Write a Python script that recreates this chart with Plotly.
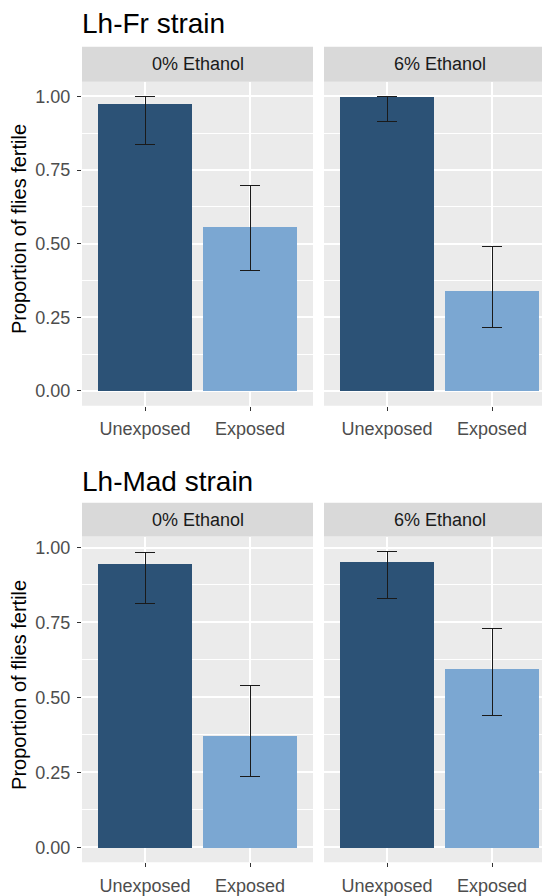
import plotly.graph_objects as go

# ---------------- data ----------------
strains = ["Lh-Fr strain", "Lh-Mad strain"]
ethanol_levels = ["0% Ethanol", "6% Ethanol"]
categories = ["Unexposed", "Exposed"]

fr_0_mean = [0.976, 0.557]
fr_0_low = [0.837, 0.408]
fr_0_high = [0.998, 0.698]

fr_6_mean = [1.000, 0.340]
fr_6_low = [0.915, 0.215]
fr_6_high = [1.000, 0.492]

mad_0_mean = [0.946, 0.374]
mad_0_low = [0.812, 0.236]
mad_0_high = [0.983, 0.540]

mad_6_mean = [0.952, 0.596]
mad_6_low = [0.829, 0.440]
mad_6_high = [0.987, 0.729]

y_ticks = [0.0, 0.25, 0.50, 0.75, 1.00]
y_tick_labels = ["0.00", "0.25", "0.50", "0.75", "1.00"]
y_title = "Proportion of flies fertile"

# ---------------- style ----------------
VIEW_W, VIEW_H = 550, 896
OFF = 8  # default page body margin
W, H = VIEW_W - OFF, VIEW_H - OFF
FONT = "Liberation Sans, Arial, sans-serif"
bar_colors = ["#2C5276", "#7BA7D2"]
panel_bg = "#EBEBEB"
strip_bg = "#D9D9D9"

def px_x(p):
    return (p - OFF) / W

def px_y(p):
    return 1 - (p - OFF) / H

panels = [
    (0, 0, fr_0_mean, fr_0_low, fr_0_high),
    (0, 1, fr_6_mean, fr_6_low, fr_6_high),
    (1, 0, mad_0_mean, mad_0_low, mad_0_high),
    (1, 1, mad_6_mean, mad_6_low, mad_6_high),
]

# pixel geometry (in page pixels)
col_left = [82, 324]
col_full_right = [313, 555]
unit_px = 105.0
row_strip_top = [47, 505]
row_panel_top = [82, 539]
row_panel_bot = [407.5, 866]
title_y = [24, 483.5]
ytitle_y = [230, 688]

fig = go.Figure()
layout_axes = {}
shapes = []
annotations = []

row_max = {}
for r in range(2):
    highs = []
    for (rr, c, m, lo, hi) in panels:
        if rr == r:
            highs += hi
    row_max[r] = max(highs)

for i, (r, c, mean, low, high) in enumerate(panels):
    idx = i + 1
    xa = "x" if idx == 1 else f"x{idx}"
    ya = "y" if idx == 1 else f"y{idx}"
    xkey = "xaxis" if idx == 1 else f"xaxis{idx}"
    ykey = "yaxis" if idx == 1 else f"yaxis{idx}"

    fig.add_trace(go.Bar(
        x=[1, 2], y=mean,
        width=0.9,
        marker=dict(color=bar_colors, line=dict(width=0)),
        error_y=dict(type="data", symmetric=False,
                     array=[h - m for h, m in zip(high, mean)],
                     arrayminus=[m - l for m, l in zip(mean, low)],
                     color="#1a1a1a", thickness=1, width=10),
        xaxis=xa, yaxis=ya, showlegend=False,
        hoverinfo="skip",
    ))

    left = col_left[c]
    right = min(col_full_right[c], VIEW_W)
    x_range = [0.4, 0.4 + (right - left) / unit_px]
    ymax = row_max[r]
    y_range = [-0.05 * ymax, 1.05 * ymax]

    layout_axes[xkey] = dict(
        domain=[px_x(left), px_x(right)], range=x_range,
        anchor=ya, tickvals=[1, 2], ticktext=categories,
        showgrid=True, gridcolor="white", gridwidth=2,
        zeroline=False, showline=False,
        ticks="outside", ticklen=4, tickwidth=1, tickcolor="#333333",
        tickfont=dict(family=FONT, size=18, color="#4D4D4D"),
        ticklabelstandoff=3,
        fixedrange=True,
    )
    layout_axes[ykey] = dict(
        domain=[px_y(row_panel_bot[r]), px_y(row_panel_top[r])], range=y_range,
        anchor=xa, tickvals=y_ticks, ticktext=y_tick_labels,
        showticklabels=(c == 0),
        showgrid=True, gridcolor="white", gridwidth=2,
        minor=dict(dtick=0.125, tick0=0.125, showgrid=True, gridcolor="white", gridwidth=1, ticks=""),
        zeroline=False, showline=False,
        ticks="outside" if c == 0 else "", ticklen=4, tickwidth=1, tickcolor="#333333",
        tickfont=dict(family=FONT, size=18, color="#4D4D4D"),
        ticklabelstandoff=3,
        fixedrange=True,
    )

    shapes.append(dict(type="rect", xref="paper", yref="paper", layer="below",
                       x0=px_x(left), x1=px_x(right),
                       y0=px_y(row_panel_bot[r]), y1=px_y(row_panel_top[r]),
                       fillcolor=panel_bg, line=dict(width=0)))
    shapes.append(dict(type="rect", xref="paper", yref="paper",
                       x0=px_x(left), x1=px_x(right),
                       y0=px_y(row_panel_top[r]), y1=px_y(row_strip_top[r]),
                       fillcolor=strip_bg, line=dict(width=0)))
    annotations.append(dict(
        text=ethanol_levels[c], xref="paper", yref="paper",
        x=px_x((col_left[c] + col_full_right[c]) / 2),
        y=px_y((row_strip_top[r] + row_panel_top[r]) / 2),
        xanchor="center", yanchor="middle", showarrow=False,
        font=dict(family=FONT, size=18, color="#1A1A1A")))

for r in range(2):
    annotations.append(dict(
        text=strains[r], xref="paper", yref="paper",
        x=px_x(80), y=px_y(title_y[r]), xanchor="left", yanchor="middle",
        showarrow=False, font=dict(family=FONT, size=28, color="black")))
    annotations.append(dict(
        text=y_title, xref="paper", yref="paper",
        x=px_x(19), y=px_y(ytitle_y[r]), xanchor="center", yanchor="middle",
        textangle=-90, showarrow=False,
        font=dict(family=FONT, size=20, color="black")))

fig.update_layout(
    width=W, height=H,
    margin=dict(l=0, r=0, t=0, b=0),
    paper_bgcolor="white", plot_bgcolor="rgba(0,0,0,0)",
    shapes=shapes, annotations=annotations,
    bargap=0, showlegend=False,
    **layout_axes,
)

fig.write_html("out.html", config={"displayModeBar": False})
